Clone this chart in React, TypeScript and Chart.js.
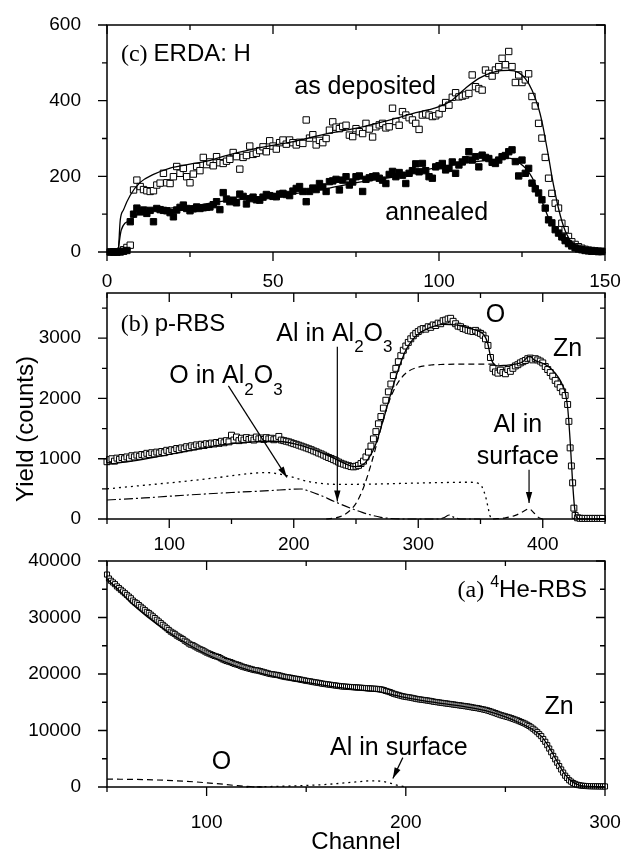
import React, { useEffect, useRef } from 'react';
import { Chart, registerables } from 'chart.js';

Chart.register(...registerables);

type Pt = [number, number];

// ---------------- Panel (c) ERDA: H ----------------
const erdaXTicks = [0, 50, 100, 150];
const erdaXMinor = [25, 75, 125];
const erdaYTicks = [0, 200, 400, 600];
const erdaYMinor = [100, 300, 500];
const erdaFirstChannel = 1;
const erdaAsDeposited = [
  0, 0, 0, 2, 6, 12, 18, 164, 190, 173,
  165, 162, 160, 162, 177, 182, 208, 183, 181, 199,
  226, 208, 221, 199, 183, 206, 226, 215, 250, 231,
  238, 228, 252, 236, 234, 240, 245, 263, 252, 219,
  250, 255, 280, 258, 261, 268, 278, 265, 294, 280,
  272, 289, 296, 285, 296, 289, 283, 290, 287, 349,
  301, 310, 283, 295, 289, 300, 322, 344, 330, 326,
  332, 335, 309, 305, 326, 318, 313, 340, 325, 304,
  331, 336, 340, 328, 331, 380, 345, 335, 371, 362,
  355, 349, 340, 324, 362, 365, 362, 358, 360, 365,
  380, 395, 388, 409, 421, 410, 412, 415, 419, 468,
  437, 432, 428, 481, 472, 465, 481, 490, 512, 495,
  530, 490, 448, 468, 448, 455, 471, 411, 386, 340,
  301, 250, 195, 155, 129, 116, 76, 59, 41, 27,
  20, 14, 10, 7, 5, 4, 3, 2, 2,
];
const erdaAnnealed = [
  0, 0, 0, 0, 2, 4, 80, 100, 116, 106,
  111, 102, 110, 80, 115, 112, 110, 109, 104, 93,
  111, 118, 124, 115, 109, 114, 119, 115, 117, 118,
  119, 125, 133, 112, 157, 140, 133, 137, 130, 153,
  147, 127, 141, 145, 138, 137, 145, 152, 149, 147,
  146, 153, 155, 152, 149, 161, 168, 173, 160, 133,
  160, 169, 165, 181, 172, 160, 186, 188, 192, 164,
  190, 199, 177, 185, 199, 201, 160, 192, 196, 199,
  201, 195, 190, 181, 205, 213, 199, 210, 203, 181,
  208, 215, 233, 212, 234, 215, 199, 195, 225, 228,
  234, 217, 221, 238, 208, 230, 238, 244, 265, 243,
  252, 225, 256, 250, 247, 237, 234, 243, 252, 255,
  265, 270, 239, 201, 243, 208, 221, 182, 167, 156,
  138, 116, 85, 77, 59, 50, 40, 30, 22, 16,
  11, 8, 6, 4, 3, 2, 2, 1, 1,
];
const erdaAsDepositedFit: Pt[] = [
  [0, 0], [3.3, 0], [4, 85], [5, 112], [7, 150], [10, 184], [14, 205], [19, 222], [25, 232],
  [30, 240], [35, 253], [45, 274], [56, 292], [67, 314], [77, 331], [87, 353], [92, 366],
  [97, 376], [100, 384], [104, 402], [108, 433], [112, 459], [117, 477], [121, 480], [124, 474],
  [126, 458], [128, 428], [130, 380], [131, 345], [132, 300], [133, 252], [134, 200], [135, 155],
  [136, 115], [137, 82], [138, 56], [139, 38], [140, 25], [142, 12], [145, 5], [150, 2],
];
const erdaAnnealedFit: Pt[] = [
  [0, 0], [3.3, 0], [3.6, 20], [4.3, 58], [7.3, 85], [10.3, 107], [17, 115], [24, 120], [34, 133],
  [45, 145], [57, 155], [67, 169], [77, 186], [87, 199], [97, 219], [107, 234], [117, 245],
  [121, 248], [123, 243], [125, 230], [127, 212], [129, 180], [131, 135], [133, 90], [135, 55],
  [137, 30], [139, 16], [142, 8], [147, 4], [150, 3],
];

// ---------------- Panel (b) p-RBS ----------------
const prbsXTicks = [100, 200, 300, 400];
const prbsXMinor = [50, 150, 250, 350, 450];
const prbsYTicks = [0, 1000, 2000, 3000];
const prbsYMinor = [500, 1500, 2500, 3500];
const prbsData: Pt[] = [
  [50, 950], [52, 985], [54, 1000], [56, 960], [58, 1010], [60, 990], [62, 1020], [64, 1000],
  [66, 1030], [68, 1010], [70, 1050], [72, 1030], [74, 1060], [76, 1040], [78, 1070], [80, 1060],
  [82, 1090], [84, 1070], [86, 1100], [88, 1080], [90, 1110], [92, 1095], [94, 1120], [96, 1100],
  [98, 1140], [100, 1120], [102, 1150], [104, 1135], [106, 1170], [108, 1150], [110, 1180],
  [112, 1165], [114, 1200], [116, 1180], [118, 1215], [120, 1195], [122, 1230], [124, 1210],
  [126, 1240], [128, 1220], [130, 1250], [132, 1235], [134, 1260], [136, 1245], [138, 1270],
  [140, 1255], [142, 1290], [144, 1265], [146, 1300], [148, 1280], [150, 1390], [152, 1310],
  [154, 1360], [156, 1300], [158, 1340], [160, 1310], [162, 1350], [164, 1320], [166, 1340],
  [168, 1310], [170, 1360], [172, 1330], [174, 1345], [176, 1320], [178, 1350], [180, 1330],
  [182, 1340], [184, 1315], [186, 1330], [188, 1370], [190, 1310], [192, 1300], [194, 1290],
  [196, 1280], [198, 1265], [200, 1250], [202, 1240], [204, 1225], [206, 1210], [208, 1195],
  [210, 1180], [212, 1165], [214, 1150], [216, 1130], [218, 1115], [220, 1095], [222, 1080],
  [224, 1060], [226, 1040], [228, 1020], [230, 1005], [232, 985], [234, 965], [236, 945],
  [238, 925], [240, 910], [242, 895], [244, 885], [246, 870], [248, 865], [250, 875], [252, 890],
  [254, 920], [256, 960], [258, 1030], [260, 1110], [262, 1210], [264, 1330], [266, 1450],
  [268, 1580], [270, 1700], [272, 1840], [274, 1970], [276, 2110], [278, 2240], [280, 2380],
  [282, 2500], [284, 2610], [286, 2710], [288, 2800], [290, 2870], [292, 2930], [294, 2990],
  [296, 3040], [298, 3080], [300, 3110], [302, 3140], [304, 3160], [306, 3150], [308, 3190],
  [310, 3180], [312, 3220], [314, 3210], [316, 3250], [318, 3240], [320, 3290], [322, 3300],
  [324, 3320], [326, 3330], [328, 3280], [330, 3240], [332, 3200], [334, 3190], [336, 3160],
  [338, 3150], [340, 3130], [342, 3120], [344, 3110], [346, 3130], [348, 3100], [350, 3080],
  [352, 3050], [354, 2990], [356, 2880], [358, 2680], [360, 2500], [362, 2440], [364, 2420],
  [366, 2470], [368, 2430], [370, 2410], [372, 2480], [374, 2450], [376, 2500], [378, 2540],
  [380, 2560], [382, 2590], [384, 2610], [386, 2630], [388, 2660], [390, 2670], [392, 2640],
  [394, 2660], [396, 2640], [398, 2620], [400, 2590], [402, 2530], [404, 2480], [406, 2430],
  [408, 2370], [410, 2300], [412, 2240], [414, 2180], [416, 2110], [418, 2050], [420, 1900],
  [421, 1620], [422, 1180], [423, 880], [424, 600], [425, 180], [426, 60], [428, 20], [430, 12],
  [432, 10], [434, 10], [436, 10], [438, 10], [440, 10], [442, 10], [444, 10], [446, 10], [448, 10],
];
const prbsFit: Pt[] = [
  [50, 905], [70, 960], [90, 1030], [110, 1110], [130, 1190], [150, 1250], [170, 1285],
  [185, 1290], [200, 1250], [215, 1160], [230, 1030], [240, 930], [248, 870], [254, 885],
  [260, 1000], [266, 1250], [272, 1650], [278, 2080], [284, 2480], [290, 2800], [296, 2990],
  [302, 3100], [310, 3180], [320, 3230], [330, 3220], [340, 3170], [348, 3120], [353, 3050],
  [356, 2900], [358, 2700], [360, 2590], [364, 2540], [370, 2550], [378, 2570], [384, 2610],
  [388, 2690], [390, 2700], [393, 2640], [398, 2600], [404, 2540], [410, 2420], [414, 2300],
  [418, 2100], [420, 1850], [422, 1300], [424, 600], [425.5, 200], [427, 30], [430, 0], [450, 0],
];
const prbsZnO: Pt[] = [
  [226, 0], [236, 30], [244, 120], [250, 260], [256, 520], [262, 900], [268, 1350], [274, 1800],
  [280, 2120], [286, 2330], [292, 2450], [300, 2520], [310, 2555], [320, 2565], [340, 2570], [365, 2570],
];
const prbsOinAl2O3: Pt[] = [
  [50, 500], [80, 560], [110, 620], [140, 690], [165, 755], [178, 770], [190, 740], [200, 690],
  [210, 630], [220, 595], [235, 575], [260, 578], [290, 592], [320, 605], [340, 610], [347, 598],
  [351, 540], [354, 380], [356, 200], [357.5, 60], [359, 0],
];
const prbsAlinAl2O3: Pt[] = [
  [50, 315], [80, 350], [115, 398], [150, 440], [180, 470], [200, 495], [206, 498], [212, 465],
  [220, 405], [233, 287], [246, 177], [255, 110], [263, 60], [270, 28], [278, 8], [290, 0],
  [316, 0], [321, 25], [325, 66], [329, 25], [334, 0], [350, 0],
];
const prbsAlSurface: Pt[] = [
  [360, 0], [370, 20], [378, 60], [384, 120], [389, 170], [393, 100], [397, 20], [400, 0],
];

// ---------------- Panel (a) 4He-RBS ----------------
const heXTicks = [100, 200, 300];
const heXMinor = [50, 150, 250];
const heYTicks = [0, 10000, 20000, 30000, 40000];
const heYMinor = [5000, 15000, 25000, 35000];
const heFirstChannel = 50;
const heData = [
  37600, 36900, 36500, 36200, 35900, 35500, 35200, 34900, 34600, 34300,
  34000, 33700, 33400, 33000, 32700, 32500, 32200, 31900, 31600, 31300,
  31000, 30800, 30500, 30200, 29900, 29600, 29300, 29000, 28700, 28400,
  28100, 27800, 27500, 27300, 27100, 26800, 26600, 26400, 26200, 25900,
  25700, 25400, 25200, 25100, 24900, 24700, 24500, 24350, 24200, 24000,
  23800, 23650, 23500, 23350, 23200, 23100, 23000, 22800, 22600, 22450,
  22300, 22200, 22100, 21950, 21800, 21700, 21600, 21450, 21300, 21200,
  21100, 21000, 20900, 20800, 20700, 20650, 20600, 20500, 20400, 20300,
  20200, 20100, 20000, 19950, 19900, 19850, 19800, 19700, 19600, 19520,
  19450, 19400, 19350, 19280, 19200, 19150, 19100, 19020, 18950, 18880,
  18800, 18750, 18700, 18620, 18550, 18500, 18450, 18380, 18300, 18250,
  18200, 18150, 18100, 18050, 18000, 17950, 17900, 17850, 17800, 17780,
  17750, 17720, 17700, 17680, 17650, 17620, 17600, 17580, 17550, 17520,
  17500, 17480, 17450, 17420, 17400, 17380, 17350, 17300, 17250, 17150,
  17000, 16900, 16800, 16650, 16500, 16400, 16300, 16200, 16100, 16020,
  15950, 15900, 15850, 15780, 15700, 15620, 15550, 15500, 15450, 15400,
  15350, 15300, 15250, 15180, 15100, 15050, 15000, 14950, 14900, 14850,
  14800, 14750, 14700, 14650, 14600, 14550, 14500, 14450, 14400, 14350,
  14300, 14250, 14200, 14120, 14050, 14000, 13950, 13880, 13800, 13720,
  13650, 13550, 13450, 13320, 13200, 13080, 12950, 12820, 12700, 12600,
  12500, 12400, 12300, 12180, 12050, 11920, 11800, 11650, 11500, 11350,
  11200, 11000, 10800, 10550, 10300, 10000, 9700, 9350, 9000, 8500,
  8000, 7400, 6800, 6150, 5500, 4900, 4300, 3700, 3100, 2550,
  2000, 1600, 1200, 950, 700, 550, 400, 320, 250, 210,
  180, 165, 150, 140, 130, 125, 120, 115, 110, 105,
  100,
];
const heFit: Pt[] = [
  [50, 36800], [56, 34800], [62, 32600], [70, 30200], [80, 27600], [90, 25400], [100, 23500],
  [110, 22000], [120, 20800], [130, 19900], [140, 19100], [150, 18500], [160, 17950], [170, 17450],
  [180, 17050], [188, 16750], [195, 16200], [200, 15800], [210, 15200], [220, 14700], [230, 14200],
  [240, 13500], [250, 12400], [258, 11200], [264, 10100], [268, 9000], [272, 7000], [276, 4500],
  [280, 2200], [284, 800], [288, 250], [292, 100], [300, 80],
];
const heO: Pt[] = [[50, 1400], [70, 1300], [90, 1000], [105, 600], [115, 250], [122, 60], [128, 0]];
const heAlSurface: Pt[] = [
  [120, 0], [140, 150], [160, 450], [175, 900], [183, 1100], [188, 1000], [192, 700], [196, 300], [200, 0],
];

// ---------------- drawing helpers ----------------
const W = 623;
const PLOT_LEFT = 107;
const PLOT_RIGHT = 605;
const SANS = '"Liberation Sans", Arial, Helvetica, sans-serif';
const SERIF = '"Liberation Serif", "Times New Roman", serif';

type Part = { t: string; serif?: boolean; sub?: boolean; sup?: boolean };

function drawRich(ctx: CanvasRenderingContext2D, parts: Part[], x: number, y: number, size: number, align: 'left' | 'center' | 'right') {
  const small = Math.round(size * 0.68);
  const fontOf = (p: Part) => `${p.sub || p.sup ? small : size}px ${p.serif ? SERIF : SANS}`;
  let total = 0;
  for (const p of parts) { ctx.font = fontOf(p); total += ctx.measureText(p.t).width; }
  let cx = align === 'left' ? x : align === 'center' ? x - total / 2 : x - total;
  ctx.textAlign = 'left';
  ctx.textBaseline = 'alphabetic';
  ctx.fillStyle = '#000';
  const base = y + size * 0.358;
  for (const p of parts) {
    ctx.font = fontOf(p);
    const dy = p.sub ? size * 0.45 : p.sup ? -size * 0.42 : 0;
    ctx.fillText(p.t, cx, base + dy);
    cx += ctx.measureText(p.t).width;
  }
}

function arrow(ctx: CanvasRenderingContext2D, x1: number, y1: number, x2: number, y2: number) {
  ctx.save();
  ctx.strokeStyle = '#000';
  ctx.fillStyle = '#000';
  ctx.lineWidth = 1.2;
  ctx.setLineDash([]);
  ctx.beginPath();
  ctx.moveTo(x1, y1);
  ctx.lineTo(x2, y2);
  ctx.stroke();
  const a = Math.atan2(y2 - y1, x2 - x1);
  const L = 11, H = 3.2;
  ctx.beginPath();
  ctx.moveTo(x2, y2);
  ctx.lineTo(x2 - L * Math.cos(a) + H * Math.sin(a), y2 - L * Math.sin(a) - H * Math.cos(a));
  ctx.lineTo(x2 - L * Math.cos(a) - H * Math.sin(a), y2 - L * Math.sin(a) + H * Math.cos(a));
  ctx.closePath();
  ctx.fill();
  ctx.restore();
}

const toXY = (pts: Pt[]) => pts.map(([x, y]) => ({ x, y }));
const seq = (vals: number[], start: number) => vals.map((v, i) => ({ x: start + i, y: v }));

const lineDs = (pts: Pt[], dash: number[], width = 1.3) => ({
  data: toXY(pts), showLine: true, borderColor: '#000', borderWidth: width, borderDash: dash,
  pointRadius: 0, cubicInterpolationMode: 'monotone', fill: false, clip: false,
});
const squareDs = (data: { x: number; y: number }[], filled: boolean, r: number) => ({
  data, showLine: false, pointStyle: 'rect', pointRadius: r, pointBorderWidth: 1,
  pointBorderColor: '#000', pointBackgroundColor: filled ? '#000' : '#fff', clip: false,
});

type Spec = {
  top: number; height: number; plotTop: number; plotBottom: number;
  xMin: number; xMax: number; yMax: number;
  xTicks: number[]; xMinor: number[]; yTicks: number[]; yMinor: number[];
  xLabelPad: number;
  datasets: any[];
  annotate: (ctx: CanvasRenderingContext2D, X: (v: number) => number, Y: (v: number) => number) => void;
};

const specs: Spec[] = [
  {
    top: 0, height: 290, plotTop: 25, plotBottom: 252,
    xMin: 0, xMax: 150, yMax: 600,
    xTicks: erdaXTicks, xMinor: erdaXMinor, yTicks: erdaYTicks, yMinor: erdaYMinor, xLabelPad: 10,
    datasets: [
      lineDs(erdaAsDepositedFit, []),
      lineDs(erdaAnnealedFit, []),
      squareDs(seq(erdaAnnealed, erdaFirstChannel), true, 4.5),
      squareDs(seq(erdaAsDeposited, erdaFirstChannel), false, 4.5),
    ],
    annotate: (ctx, X, Y) => {
      drawRich(ctx, [{ t: '(c) ', serif: true }, { t: 'ERDA: H' }], X(4.2), Y(528), 24, 'left');
      drawRich(ctx, [{ t: 'as deposited' }], X(56.4), Y(441), 25, 'left');
      drawRich(ctx, [{ t: 'annealed' }], X(83.8), Y(107), 25, 'left');
    },
  },
  {
    top: 285, height: 265, plotTop: 293, plotBottom: 519,
    xMin: 50, xMax: 450, yMax: 3750,
    xTicks: prbsXTicks, xMinor: prbsXMinor, yTicks: prbsYTicks, yMinor: prbsYMinor, xLabelPad: 6,
    datasets: [
      lineDs(prbsFit, []),
      lineDs(prbsZnO, [6, 4], 1.2),
      lineDs(prbsOinAl2O3, [2, 4], 1.3),
      lineDs(prbsAlinAl2O3, [9, 3, 2, 3], 1.2),
      lineDs(prbsAlSurface, [6, 4], 1.2),
      squareDs(toXY(prbsData), false, 4.2),
    ],
    annotate: (ctx, X, Y) => {
      drawRich(ctx, [{ t: '(b) ', serif: true }, { t: 'p-RBS' }], X(61), Y(3260), 24, 'left');
      drawRich(ctx, [{ t: 'Al in Al' }, { t: '2', sub: true }, { t: 'O' }, { t: '3', sub: true }], X(186), Y(3100), 25, 'left');
      drawRich(ctx, [{ t: 'O in Al' }, { t: '2', sub: true }, { t: 'O' }, { t: '3', sub: true }], X(100), Y(2400), 25, 'left');
      drawRich(ctx, [{ t: 'O' }], X(362), Y(3420), 25, 'center');
      drawRich(ctx, [{ t: 'Zn' }], X(420), Y(2860), 25, 'center');
      drawRich(ctx, [{ t: 'Al in' }], X(380), Y(1590), 25, 'center');
      drawRich(ctx, [{ t: 'surface' }], X(380), Y(1066), 25, 'center');
      arrow(ctx, X(147.5), Y(2210), X(194.5), Y(690));
      arrow(ctx, X(235), Y(2860), X(235), Y(290));
      arrow(ctx, X(389), Y(818), X(389), Y(265));
      ctx.save();
      ctx.translate(24, 429 - 285);
      ctx.rotate(-Math.PI / 2);
      drawRich(ctx, [{ t: 'Yield (counts)' }], 0, 0, 24, 'center');
      ctx.restore();
    },
  },
  {
    top: 550, height: 302, plotTop: 561, plotBottom: 787,
    xMin: 50, xMax: 300, yMax: 40000,
    xTicks: heXTicks, xMinor: heXMinor, yTicks: heYTicks, yMinor: heYMinor, xLabelPad: 16,
    datasets: [
      lineDs(heFit, []),
      lineDs(heO, [6, 4], 1.2),
      lineDs(heAlSurface, [2, 4], 1.3),
      squareDs(seq(heData, heFirstChannel), false, 3.6),
    ],
    annotate: (ctx, X, Y) => {
      drawRich(ctx, [{ t: '(a) ', serif: true }, { t: '4', sup: true }, { t: 'He-RBS' }], X(291), Y(35160), 24, 'right');
      drawRich(ctx, [{ t: 'Zn' }], X(277), Y(14550), 25, 'center');
      drawRich(ctx, [{ t: 'Al in surface' }], X(162), Y(7250), 25, 'left');
      drawRich(ctx, [{ t: 'O' }], X(107.5), Y(4830), 25, 'center');
      arrow(ctx, X(198.5), Y(5200), X(193.5), Y(1500));
      drawRich(ctx, [{ t: 'Channel' }], (PLOT_LEFT + PLOT_RIGHT) / 2, 840 - 550, 24, 'center');
    },
  },
];

function Panel({ spec }: { spec: Spec }) {
  const ref = useRef<HTMLCanvasElement>(null);
  useEffect(() => {
    const canvas = ref.current!;
    const overlay = {
      id: 'frameNotes',
      afterDraw(chart: any) {
        const ctx: CanvasRenderingContext2D = chart.ctx;
        const { left, right, top, bottom } = chart.chartArea;
        const X = (v: number) => chart.scales.x.getPixelForValue(v);
        const Y = (v: number) => chart.scales.y.getPixelForValue(v);
        ctx.save();
        ctx.strokeStyle = '#000';
        ctx.setLineDash([]);
        ctx.lineWidth = 1.5;
        ctx.strokeRect(left, top, right - left, bottom - top);
        ctx.lineWidth = 1.3;
        ctx.beginPath();
        const xt = (v: number, len: number) => {
          const p = X(v);
          ctx.moveTo(p, bottom); ctx.lineTo(p, bottom + len);
          ctx.moveTo(p, top); ctx.lineTo(p, top + len);
        };
        const yt = (v: number, len: number) => {
          const p = Y(v);
          ctx.moveTo(left, p); ctx.lineTo(left - len, p);
          ctx.moveTo(right, p); ctx.lineTo(right - len, p);
        };
        spec.xTicks.forEach((v) => xt(v, 9));
        spec.xMinor.forEach((v) => xt(v, 5));
        spec.yTicks.forEach((v) => yt(v, 9));
        spec.yMinor.forEach((v) => yt(v, 5));
        ctx.stroke();
        ctx.restore();
        ctx.save();
        spec.annotate(ctx, X, Y);
        ctx.restore();
      },
    };
    const tickFont = { family: SANS, size: 19 };
    const chart = new Chart(canvas, {
      type: 'scatter',
      data: { datasets: spec.datasets },
      options: {
        responsive: false,
        animation: false,
        events: [],
        layout: { padding: { top: spec.plotTop - spec.top, right: W - PLOT_RIGHT, left: 0, bottom: 0 } },
        plugins: { legend: { display: false }, tooltip: { enabled: false } },
        scales: {
          x: {
            type: 'linear', position: 'bottom', min: spec.xMin, max: spec.xMax,
            grid: { display: false }, border: { display: false },
            ticks: { font: tickFont, color: '#000', padding: spec.xLabelPad, maxRotation: 0, minRotation: 0, autoSkip: false, callback: (v: any) => String(v) },
            afterBuildTicks: (s: any) => { s.ticks = spec.xTicks.map((v) => ({ value: v })); },
            afterFit: (s: any) => {
              s.height = spec.height - (spec.plotBottom - spec.top);
              s.paddingLeft = 0; s.paddingRight = 0; s.paddingTop = 0; s.paddingBottom = 0;
            },
          },
          y: {
            type: 'linear', position: 'left', min: 0, max: spec.yMax,
            grid: { display: false }, border: { display: false },
            ticks: { font: tickFont, color: '#000', padding: 18, autoSkip: false, callback: (v: any) => String(v) },
            afterBuildTicks: (s: any) => { s.ticks = spec.yTicks.map((v) => ({ value: v })); },
            afterFit: (s: any) => {
              s.width = PLOT_LEFT;
              s.paddingLeft = 0; s.paddingRight = 0; s.paddingTop = 0; s.paddingBottom = 0;
            },
          },
        },
      } as any,
      plugins: [overlay],
    });
    return () => chart.destroy();
  }, []);
  return (
    <canvas
      ref={ref}
      width={W}
      height={spec.height}
      style={{ position: 'absolute', left: 0, top: spec.top, width: W, height: spec.height }}
    />
  );
}

export default function App() {
  return (
    <div style={{ position: 'absolute', left: 0, top: 0, width: W, height: 852, background: '#fff' }}>
      {specs.map((s, i) => (
        <Panel key={i} spec={s} />
      ))}
    </div>
  );
}
